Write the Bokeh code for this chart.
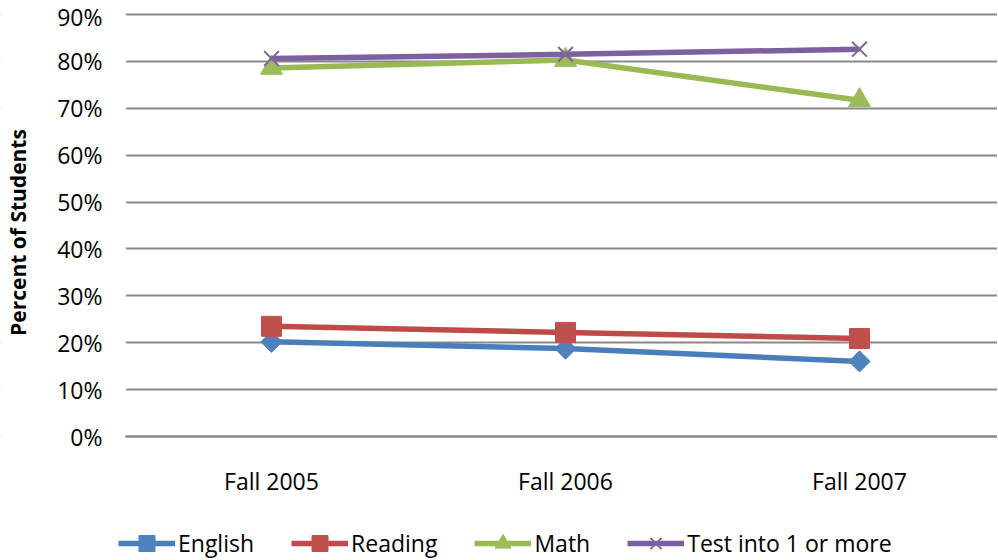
from math import pi
from bokeh.plotting import figure
from bokeh.models import (Range1d, FixedTicker, Legend, LegendItem, Label,
                          BoxAnnotation)
from bokeh.embed import file_html
from bokeh.resources import INLINE

categories = ["Fall 2005", "Fall 2006", "Fall 2007"]
english = [20.2, 18.75, 16.0]
reading = [23.5, 22.2, 20.9]
math_scores = [78.6, 80.3, 71.7]
test_any = [80.6, 81.5, 82.6]
series_names = ["English", "Reading", "Math", "Test into 1 or more"]
y_ticks = [0, 10, 20, 30, 40, 50, 60, 70, 80, 90]
y_tick_labels = [f"{t}%" for t in y_ticks]

FONT = "Open Sans"
GRID = "#888888"

# layout (pixels)
W, H = 997, 558
TOP = 14                 # canvas top -> 90 % line
PLOT_H = 422             # pixels of the 0..90 % band
PLOT_LEFT = 125          # where the plot area (grid) starts
CAT_STEP = 294           # pixels between categories
FIRST_CAT = 271          # pixel of first category

px_per_unit = PLOT_H / 90.0
y_high = 90 + TOP / px_per_unit
y_low = -(H - TOP - PLOT_H) / px_per_unit
x_left = 1 - FIRST_CAT / CAT_STEP
x_right = 1 + (W - FIRST_CAT) / CAT_STEP
x_plot_left = 1 - (FIRST_CAT - PLOT_LEFT) / CAT_STEP

p = figure(width=W, height=H, output_backend="svg", toolbar_location=None,
           x_range=Range1d(x_left, x_right), y_range=Range1d(y_low, y_high),
           min_border_left=0, min_border_right=0, min_border_top=0,
           min_border_bottom=0)
p.outline_line_color = None
p.background_fill_color = "white"

xs = list(range(1, len(categories) + 1))

# x axis drawn at 0 %
p.xaxis.fixed_location = 0
p.xaxis.bounds = (x_plot_left, x_right)
p.xaxis.ticker = FixedTicker(ticks=xs)
p.xaxis.major_label_overrides = dict(zip(xs, categories))
p.xaxis.axis_line_color = GRID
p.xaxis.axis_line_width = 2
p.xaxis.major_tick_line_color = None
p.xaxis.major_tick_out = 0
p.xaxis.major_tick_in = 0
p.xaxis.minor_tick_line_color = None
p.xaxis.major_label_standoff = 28
p.xaxis.major_label_text_font = FONT
p.xaxis.major_label_text_font_size = "23px"
p.xaxis.major_label_text_color = "black"
p.xgrid.visible = False

# y axis drawn at the plot-area left edge
p.yaxis.fixed_location = x_plot_left
p.yaxis.ticker = FixedTicker(ticks=y_ticks)
p.yaxis.major_label_overrides = dict(zip(y_ticks, y_tick_labels))
p.yaxis.axis_line_color = None
p.yaxis.major_tick_line_color = None
p.yaxis.major_tick_out = 0
p.yaxis.major_tick_in = 0
p.yaxis.minor_tick_line_color = None
p.yaxis.major_label_standoff = 23
p.yaxis.major_label_text_font = FONT
p.yaxis.major_label_text_font_size = "23px"
p.yaxis.major_label_text_color = "black"
p.ygrid.grid_line_color = GRID
p.ygrid.grid_line_width = 2

# hide grid lines left of the plot area
p.add_layout(BoxAnnotation(left=x_left - 0.5, right=x_plot_left,
                           fill_color="white", fill_alpha=1,
                           line_color="white", line_width=3, level="glyph"))

p.add_layout(Label(x=17, y=H - 232, x_units="screen", y_units="screen",
                   angle=pi / 2, text="Percent of Students",
                   text_align="center", text_baseline="middle",
                   text_font=FONT, text_font_style="bold",
                   text_font_size="21px", text_color="black"))

styles = [
    ("#4A7EBB", "#4F81BD", "square", 15, pi / 4),
    ("#BE4B48", "#C0504D", "square", 20, 0),
    ("#98B954", "#9BBB59", "triangle", 22, 0),
    ("#7D60A0", "#8064A2", "x", 21, 0),
]
values = [english, reading, math_scores, test_any]

items = []
for name, vals, (lc, mc, marker, size, ang) in zip(series_names, values, styles):
    ln = p.line(xs, vals, line_color=lc, line_width=5.5)
    if marker == "x":
        sc = p.scatter(xs, vals, marker=marker, size=size, line_color=mc,
                       line_width=2)
    else:
        sc = p.scatter(xs, vals, marker=marker, size=size, angle=ang,
                       fill_color=mc, line_color=mc)
    items.append(LegendItem(label=name, renderers=[ln, sc]))

legend = Legend(items=items, location=(118, -5), orientation="horizontal",
                glyph_width=57, glyph_height=40, label_standoff=3, spacing=37,
                padding=0, margin=0, border_line_color=None,
                background_fill_alpha=0, label_text_font=FONT,
                label_text_font_size="23px", label_text_color="black")
p.add_layout(legend)

open("out.html", "w").write(file_html(p, INLINE))
